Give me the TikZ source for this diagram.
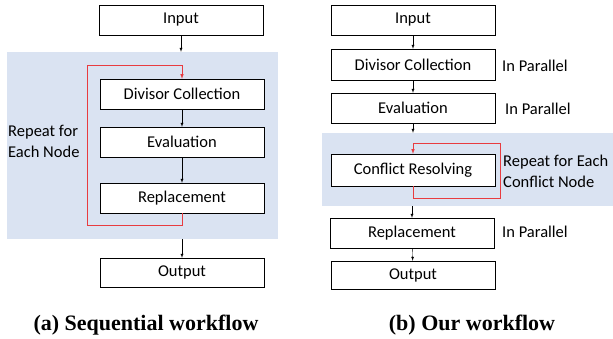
\documentclass[tikz,border=0pt]{standalone}
\usepackage{fontspec}
\setmainfont{Carlito}
\newfontfamily\capfont{Liberation Serif}
\usetikzlibrary{shapes,arrows,positioning}
\usepackage{xcolor}
\definecolor{bgblue}{RGB}{218,227,242}
\definecolor{loopred}{RGB}{232,60,64}

\begin{document}
\begin{tikzpicture}[x=1pt, y=-1pt, >=latex,
    stepbox/.style={draw, fill=white, minimum width=164pt, minimum height=30pt, inner sep=0pt, font=\fontsize{16.5}{18}\selectfont},
    bgbox/.style={fill=bgblue, draw=none, inner sep=0pt},
    sidetext/.style={anchor=west, align=left, inner sep=0pt, font=\fontsize{16.5}{21}\selectfont},
    loopline/.style={loopred, line width=0.6pt, ->},
    caption/.style={font=\capfont\bfseries\fontsize{22}{24}\selectfont}]
    \useasboundingbox (0,0) rectangle (613,339);

    % Background regions
    \node[bgbox, minimum width=271pt, minimum height=187pt] (bgA) at (142.5,145.5) {};
    \node[bgbox, minimum width=291pt, minimum height=73pt] (bgB) at (467.5,169.5) {};

    % (a) Sequential workflow
    \node[stepbox] (inA) at (181,20) {Input};
    \node[stepbox] (divA) at (182,94) {Divisor Collection};
    \node[stepbox] (evA) at (182,142) {Evaluation};
    \node[stepbox] (repA) at (182,198) {Replacement};
    \node[stepbox, minimum height=29pt] (outA) at (182,272.5) {Output};
    \node[sidetext] (repeatA) at (8,141.5) {Repeat for\\Each Node};
    \node[caption] (capA) at (146,325) {(a) Sequential workflow};

    % (b) Our workflow
    \node[stepbox] (inB) at (413,20) {Input};
    \node[stepbox, minimum height=31pt] (divB) at (413,64.5) {Divisor Collection};
    \node[stepbox] (evB) at (413,108) {Evaluation};
    \node[stepbox, minimum height=32pt] (crB) at (413,170) {Conflict Resolving};
    \node[stepbox] (repB) at (412,233) {Replacement};
    \node[stepbox, minimum height=28pt] (outB) at (413,275) {Output};
    \node[sidetext] (parB1) at (502,66) {In Parallel};
    \node[sidetext] (parB2) at (505,109) {In Parallel};
    \node[sidetext] (parB3) at (502,232) {In Parallel};
    \node[sidetext] (repeatB) at (503,171) {Repeat for Each\\Conflict Node};
    \node[caption] (capB) at (472,325) {(b) Our workflow};

    % Arrows
    \draw[->] (inA) -- (inA |- bgA.north);
    \draw[->] (divA) -- (evA);
    \draw[->] (evA) -- (repA);
    \draw[->] (outA |- bgA.south) -- (outA);

    \draw[->] (inB) -- (divB);
    \draw[->] (divB) -- (evB);
    \draw[->] (evB) -- (evB |- bgB.north);
    \draw[->] (repB |- bgB.south) -- (repB);
    \draw[->] (repB) -- (outB);

    % Repeat loops
    \coordinate (lpA1) at (87,225);
    \coordinate (lpA2) at (87,65);
    \draw[loopline] (repA.south) |- (lpA1) -- (lpA2) -| (divA.north);
    \coordinate (lpB1) at (500,198);
    \coordinate (lpB2) at (500,143);
    \draw[loopline] (crB.south) |- (lpB1) -- (lpB2) -| (crB.north);
\end{tikzpicture}
\end{document}
